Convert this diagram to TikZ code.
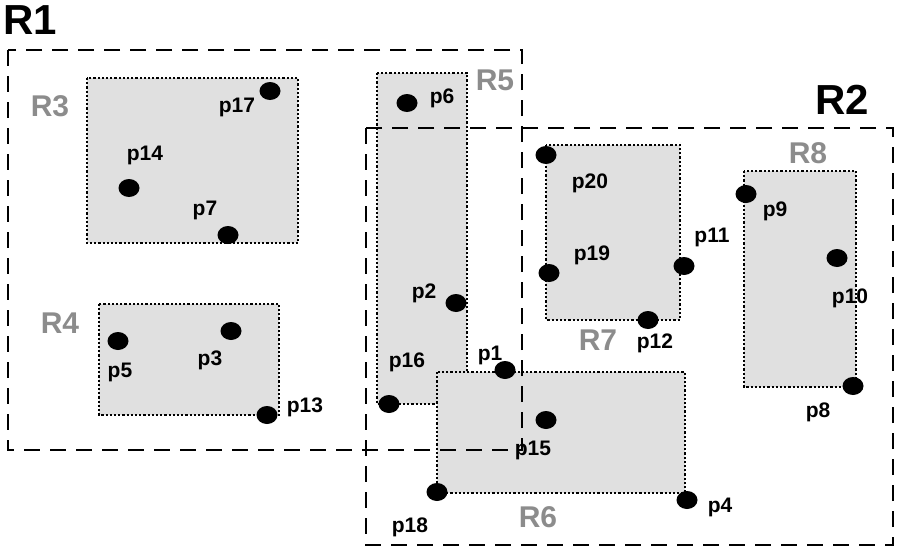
\documentclass[tikz,border=0pt]{standalone}
\usepackage{fontspec}
\setmainfont{Liberation Sans}
\begin{document}
\begin{tikzpicture}[x=1pt,y=-1pt,
  mbr/.style={fill=black!12,draw=black,line width=2.2pt,dotted},
  grp/.style={draw=black,line width=2.6pt,dash pattern=on 16pt off 10pt},
  pt/.style={fill=black,ellipse,minimum width=20pt,minimum height=17pt,inner sep=0},
  pl/.style={font=\bfseries\fontsize{21}{21}\selectfont},
  rl/.style={font=\bfseries\fontsize{30}{30}\selectfont,text=black!45},
  bl/.style={font=\bfseries\fontsize{42}{42}\selectfont}]
\useasboundingbox (0,0) rectangle (901,550);
\draw[mbr] (87,78) rectangle (298,243);
\draw[mbr] (99,304) rectangle (279,415);
\draw[mbr] (377,73) rectangle (467,404);
\draw[mbr] (437,372) rectangle (685,493);
\draw[mbr] (546,145) rectangle (680,320);
\draw[mbr] (744,171) rectangle (856,387);
\draw[grp] (8,50) rectangle (522,450);
\draw[grp] (366,128) rectangle (893,545);
\foreach \n/\x/\y in {p17/270/91,p14/129/188,p7/228/235,p5/118/341,p3/231/331,p13/267/415,p6/407/103,p2/456/303,p16/389/404,p1/505/370,p15/546/420,p18/437/492,p4/687/500,p20/546/155,p19/549/273,p11/684/266,p12/648/320,p9/746/194,p10/837/258,p8/853/386}
  \path[fill=black] (\x,\y) ellipse[x radius=10.5,y radius=9] coordinate (\n);
\foreach \n/\x/\y in {p17/237/107,p14/145/155,p7/205/210,p5/120/372,p3/210/360,p13/305/407,p6/442/98,p2/424/293,p16/407/362,p1/490/355,p15/533/450,p18/410/527,p4/720/507,p20/590/183,p19/592/255,p11/712/237,p12/655/343,p9/775/211,p10/850/298,p8/818/412}
  \node[pl] (l\n) at (\x,\y) {\n};
\foreach \n/\x/\y in {R3/50/106,R4/60/323,R5/495/80,R6/538/517,R7/598/340,R8/808/153}
  \node[rl] (\n) at (\x,\y) {\n};
\node[bl] (R1) at (30,20) {R1};
\node[bl] (R2) at (842,100) {R2};
\end{tikzpicture}
\end{document}
